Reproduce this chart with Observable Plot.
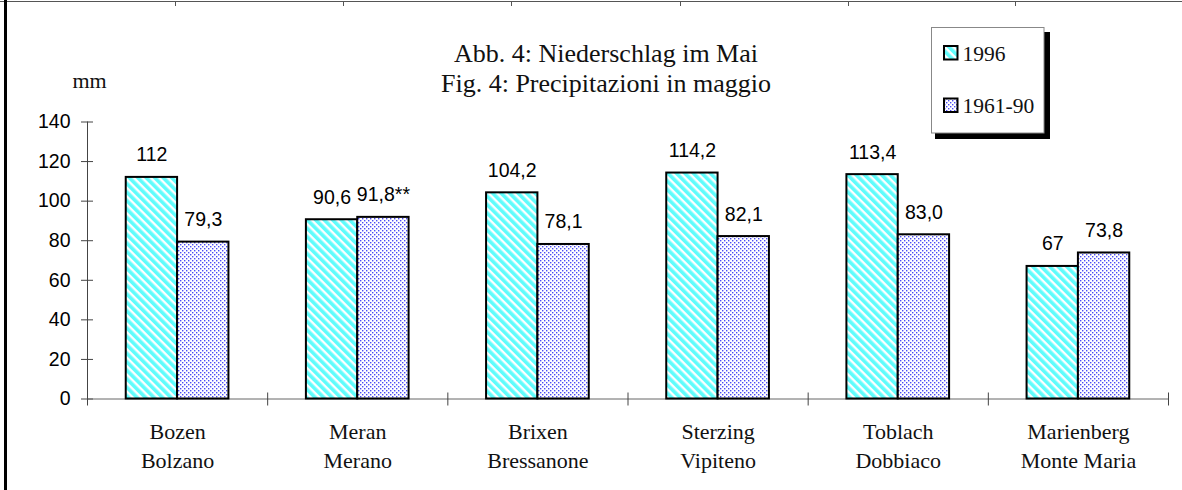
<!DOCTYPE html>
<html>
<head>
<meta charset="utf-8">
<script src="https://cdn.jsdelivr.net/npm/d3@7"></script>
<script src="https://cdn.jsdelivr.net/npm/@observablehq/plot@0.6"></script>
<style>
  html, body { margin: 0; padding: 0; background: #fff; }
  #wrap { position: relative; width: 1182px; height: 490px; overflow: hidden; background: #fff; }
  #chart svg { display: block; }
  .ov { position: absolute; left: 0; top: 0; pointer-events: none; }
</style>
</head>
<body>
<svg width="0" height="0" style="position:absolute">
  <defs>
    <pattern id="hatch1996" patternUnits="userSpaceOnUse" width="6" height="6" patternTransform="rotate(-45)">
      <rect width="6" height="6" fill="#ffffff"/>
      <rect width="3.6" height="6" fill="#5ffcfc"/>
    </pattern>
    <pattern id="dots6190" patternUnits="userSpaceOnUse" width="4" height="4">
      <rect width="4" height="4" fill="#ffffff"/>
      <rect x="0" y="0" width="1.4" height="1.4" fill="#4b4bf5"/>
      <rect x="2" y="2" width="1.4" height="1.4" fill="#4b4bf5"/>
    </pattern>
  </defs>
</svg>
<div id="wrap">
  <div id="chart"></div>
  <svg class="ov" id="overlay" width="1182" height="490"></svg>
</div>
<script>
// ---- data ----
const stationsDe = ["Bozen", "Meran", "Brixen", "Sterzing", "Toblach", "Marienberg"];
const stationsIt = ["Bolzano", "Merano", "Bressanone", "Vipiteno", "Dobbiaco", "Monte Maria"];
const seriesNames = ["1996", "1961-90"];
const values1996 = [112, 90.6, 104.2, 114.2, 113.4, 67];
const values6190 = [79.3, 91.8, 78.1, 82.1, 83.0, 73.8];
const labels1996 = ["112", "90,6", "104,2", "114,2", "113,4", "67"];
const labels6190 = ["79,3", "91,8**", "78,1", "82,1", "83,0", "73,8"];
const yTicks = [0, 20, 40, 60, 80, 100, 120, 140];
const titleLines = ["Abb. 4: Niederschlag im Mai", "Fig. 4: Precipitazioni in maggio"];
const unitLabel = "mm";

// ---- table ----
const rows = [];
stationsDe.forEach((s, i) => {
  rows.push({i, series: seriesNames[0], value: values1996[i], label: labels1996[i]});
  rows.push({i, series: seriesNames[1], value: values6190[i], label: labels6190[i]});
});
const BW = 0.285; // bar width as fraction of category step
const bx1 = d => d.series === seriesNames[0] ? d.i + 0.5 - BW : d.i + 0.5;
const bx2 = d => d.series === seriesNames[0] ? d.i + 0.5 : d.i + 0.5 + BW;
const bxc = d => (bx1(d) + bx2(d)) / 2;
const n = stationsDe.length;

const sans = "'Liberation Sans', Arial, sans-serif";
const serif = "'Liberation Serif', 'Times New Roman', serif";

const chart = Plot.plot({
  width: 1182,
  height: 490,
  marginLeft: 87,
  marginRight: 14,
  marginTop: 121.5,
  marginBottom: 91.5,
  style: {background: "transparent", overflow: "visible"},
  x: {domain: [0, n], axis: null},
  y: {domain: [0, 140], axis: null},
  marks: [
    // y axis line + crossing ticks
    Plot.ruleX([0], {y1: 0, y2: 140, stroke: "#444", strokeWidth: 1}),
    Plot.ruleY(yTicks, {x1: 0, x2: 0, insetLeft: -6, insetRight: -6, stroke: "#444"}),
    Plot.text(yTicks, {y: d => d, frameAnchor: "left", dx: -17, textAnchor: "end", text: d => String(d),
      fontSize: 19.5, fontFamily: sans, fill: "#000"}),
    // x axis line + category boundary ticks
    Plot.ruleY([0], {x1: 0, x2: n, stroke: "#666"}),
    Plot.ruleX(d3.range(n + 1), {y1: 0, y2: 0, insetTop: -6, insetBottom: -7, stroke: "#444"}),
    // bars
    Plot.rectY(rows.filter(d => d.series === seriesNames[0]),
      {x1: bx1, x2: bx2, y: "value", fill: "url(#hatch1996)", stroke: "#000", strokeWidth: 2}),
    Plot.rectY(rows.filter(d => d.series === seriesNames[1]),
      {x1: bx1, x2: bx2, y: "value", fill: "url(#dots6190)", stroke: "#000", strokeWidth: 2}),
    // value labels
    Plot.text(rows, {x: bxc, y: "value", text: "label", dy: -16, lineAnchor: "bottom",
      fontSize: 19.5, fontFamily: sans, fill: "#000"}),
    // category labels
    Plot.text(stationsDe, {x: (d, i) => i + 0.5, frameAnchor: "bottom",
      text: (d, i) => d + "\n" + stationsIt[i], lineAnchor: "top", lineHeight: 29 / 22, dy: 19,
      fontSize: 22, fontFamily: serif, fill: "#111"})
  ]
});
document.getElementById("chart").appendChild(chart);

// ---- overlay: title, unit, legend, frame ----
const ov = d3.select("#overlay");
// frame lines
ov.append("line").attr("x1", 0).attr("x2", 1182).attr("y1", 1.5).attr("y2", 1.5).attr("stroke", "#555").attr("stroke-width", 1);
[175, 343, 511, 680, 848, 1015].forEach(x => {
  ov.append("line").attr("x1", x + 0.5).attr("x2", x + 0.5).attr("y1", 1).attr("y2", 6).attr("stroke", "#555");
});
ov.append("rect").attr("x", 4).attr("y", 0).attr("width", 3).attr("height", 490).attr("fill", "#000");

// title
ov.selectAll("text.title").data(titleLines).join("text")
  .attr("class", "title")
  .attr("x", 606).attr("y", (d, i) => 62 + i * 30)
  .attr("text-anchor", "middle")
  .attr("font-family", serif).attr("font-size", 26).attr("fill", "#111")
  .text(d => d);

// unit
ov.append("text").attr("x", 89.5).attr("y", 88).attr("text-anchor", "middle")
  .attr("font-family", serif).attr("font-size", 22).attr("fill", "#111").text(unitLabel);

// legend
ov.append("rect").attr("x", 935).attr("y", 32).attr("width", 115).attr("height", 107).attr("fill", "#000");
ov.append("rect").attr("x", 931.5).attr("y", 27.5).attr("width", 112.5).attr("height", 105.5)
  .attr("fill", "#fff").attr("stroke", "#888").attr("stroke-width", 1);
const legendFill = ["url(#hatch1996)", "url(#dots6190)"];
const legendY = [46, 98.5];
seriesNames.forEach((s, k) => {
  ov.append("rect").attr("x", 944).attr("y", legendY[k]).attr("width", 13.5).attr("height", 13.5)
    .attr("fill", legendFill[k]).attr("stroke", "#000").attr("stroke-width", 2);
  ov.append("text").attr("x", 962.5).attr("y", legendY[k] + 14.5)
    .attr("font-family", serif).attr("font-size", 21.5).attr("fill", "#111").text(s);
});
</script>
</body>
</html>
